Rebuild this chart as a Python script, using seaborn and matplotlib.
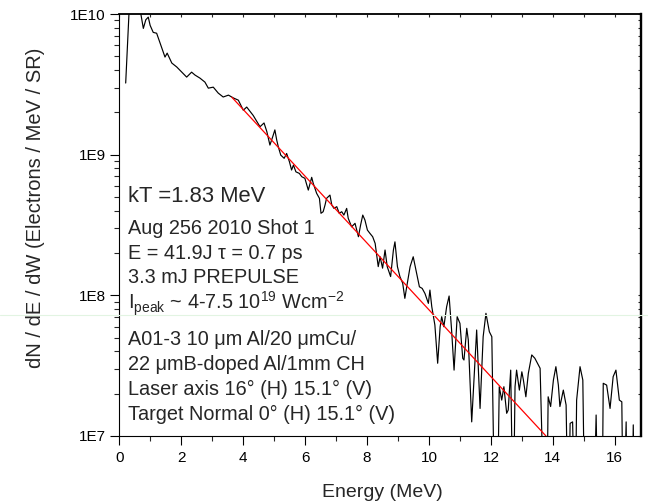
import numpy as np
import pandas as pd
import matplotlib
matplotlib.use("Agg")
import matplotlib.pyplot as plt
import seaborn as sns
from matplotlib.ticker import (MultipleLocator, LogLocator, FixedLocator,
                               FixedFormatter, NullFormatter)
from matplotlib.lines import Line2D

# ---------------- data ----------------
energy = [0.20, 0.31, 0.45, 0.60, 0.69, 0.77, 0.85, 0.93, 0.99, 1.09, 1.20, 1.36,
          1.47, 1.54, 1.69, 1.85, 1.95, 2.17, 2.33, 2.44, 2.60, 2.76, 2.87, 3.03,
          3.19, 3.35, 3.52, 3.68, 3.84, 4.00, 4.11, 4.32, 4.54, 4.67, 4.76, 4.86,
          4.95, 5.02, 5.08, 5.13, 5.21, 5.32, 5.40, 5.49, 5.56, 5.62, 5.70, 5.81,
          5.89, 5.99, 6.10, 6.21, 6.26, 6.37, 6.46, 6.51, 6.58, 6.64, 6.69, 6.80,
          6.86, 6.93, 7.02, 7.10, 7.18, 7.25, 7.34, 7.39, 7.50, 7.61, 7.72, 7.79,
          7.86, 7.93, 8.01, 8.09, 8.18, 8.26, 8.36, 8.42, 8.50, 8.58, 8.65, 8.76,
          8.85, 8.90, 8.98, 9.06, 9.15, 9.22, 9.28, 9.39, 9.49, 9.58, 9.69, 9.78,
          9.87, 9.98, 10.03, 10.09, 10.19, 10.28, 10.36, 10.41, 10.48, 10.57, 10.65,
          10.73, 10.81, 10.91, 11.00, 11.09, 11.13, 11.22, 11.27, 11.38, 11.54,
          11.65, 11.75, 11.84, 11.95, 12.03, 12.13, 12.20, 12.27, 12.35, 12.42,
          12.51, 12.56, 12.64, 12.72, 12.78, 12.83, 12.92, 13.00, 13.05, 13.13,
          13.21, 13.32, 13.42, 13.59, 13.73, 13.80, 13.85, 13.93, 14.02, 14.10,
          14.18, 14.23, 14.34, 14.43, 14.50, 14.56, 14.64, 14.72, 14.77, 14.88,
          14.97, 15.04, 15.31, 15.40, 15.47, 15.59, 15.63, 15.74, 15.85, 15.95,
          16.04, 16.15, 16.23, 16.28, 16.37, 16.41, 16.55, 16.60, 16.65, 16.82,
          16.92, 17.00]
counts = [3.23e9, 1.05e10, 1.6e10, 1.4e10, 1.0e10, 7.9e9, 9.1e9, 9.5e9, 8.3e9, 7.4e9,
          7.3e9, 5.8e9, 4.94e9, 5.27e9, 4.48e9, 4.2e9, 3.99e9, 3.56e9, 3.86e9, 3.68e9,
          3.5e9, 3.28e9, 2.97e9, 3.02e9, 2.74e9, 2.57e9, 2.65e9, 2.53e9, 2.44e9,
          2.07e9, 2.18e9, 1.90e9, 1.58e9, 1.68e9, 1.46e9, 1.17e9, 1.34e9, 1.50e9,
          1.27e9, 1.14e9, 9.93e8, 9.42e8, 1.02e9, 8.91e8, 7.78e8, 8.43e8, 7.55e8,
          7.36e8, 6.97e8, 6.79e8, 5.60e8, 6.90e8, 6.25e8, 5.31e8, 4.89e8, 3.83e8,
          3.93e8, 4.38e8, 4.89e8, 5.16e8, 4.38e8, 4.15e8, 4.27e8, 3.83e8, 3.93e8,
          3.72e8, 4.15e8, 3.53e8, 3.07e8, 3.25e8, 2.61e8, 3.16e8, 3.72e8, 3.43e8,
          2.91e8, 2.76e8, 2.61e8, 2.34e8, 1.60e8, 1.88e8, 1.56e8, 2.10e8, 1.60e8,
          1.36e8, 2.10e8, 2.40e8, 1.60e8, 1.36e8, 1.22e8, 9.52e7, 1.15e8, 1.60e8,
          1.88e8, 1.51e8, 1.15e8, 1.12e8, 1.03e8, 8.77e7, 1.09e8, 8.30e7, 6.15e7,
          3.29e7, 5.98e7, 7.05e7, 5.98e7, 8.30e7, 9.89e7, 5.67e7, 2.94e7, 7.05e7,
          6.32e7, 3.57e7, 3.47e7, 5.83e7, 4.81e7, 1.26e7, 5.67e7, 1.57e7, 5.08e7,
          7.45e7, 5.51e7, 5.08e7, 2e6, 2e6, 2.24e7, 1.80e7, 2.24e7, 1.45e7, 1.53e7,
          2.94e7, 2e6, 2.24e7, 2.94e7, 2.12e7, 2.86e7, 2.50e7, 1.90e7, 2.79e7,
          3.77e7, 3.57e7, 3.03e7, 2e6, 2e6, 1.90e7, 1.62e7, 2.50e7, 3.11e7, 2.30e7,
          1.62e7, 2.12e7, 1.66e7, 2e6, 1.23e7, 1.26e7, 2e6, 1.80e7, 3.11e7, 2.50e7,
          2e6, 2e6, 1.41e7, 2e6, 2e6, 2.37e7, 2.30e7, 1.57e7, 2.64e7, 2.94e7, 1.80e7,
          1.75e7, 2e6, 1.26e7, 2e6, 2e6, 1.20e7, 2e6, 2e6, 1.41e7, 1.3e7]

fit_energy = [3.63, 13.78]
fit_counts = [2.56e9, 1.0e7]

xtick_values = [0, 2, 4, 6, 8, 10, 12, 14, 16]
ytick_values = [1e7, 1e8, 1e9, 1e10]
ytick_labels = ["1E7", "1E8", "1E9", "1E10"]

x_label = "Energy (MeV)"
y_label = "dN / dE / dW (Electrons / MeV / SR)"
kt_text = "kT =1.83 MeV"
info_lines = [
    "Aug 256 2010 Shot 1",
    "E = 41.9J \u03c4 = 0.7 ps",
    "3.3 mJ PREPULSE",
    r"I$_{\mathrm{peak}}$ ~ 4-7.5 10$^{19}$ Wcm$^{-2}$",
    "A01-3 10 \u03bcm Al/20 \u03bcmCu/",
    "22 \u03bcmB-doped Al/1mm CH",
    "Laser axis 16\u00b0 (H) 15.1\u00b0 (V)",
    "Target Normal 0\u00b0 (H) 15.1\u00b0 (V)",
]

# ---------------- style ----------------
sns.set_theme(style="ticks")
plt.rcParams["font.family"] = ["Liberation Sans", "DejaVu Sans"]
plt.rcParams["mathtext.fontset"] = "custom"
plt.rcParams["mathtext.rm"] = "Liberation Sans"
plt.rcParams["mathtext.it"] = "Liberation Sans"
plt.rcParams["mathtext.default"] = "regular"

W, H = 648, 504
fig = plt.figure(figsize=(W / 100, H / 100), dpi=100)
L, R, T, B = 119.5, 641, 14, 436
ax = fig.add_axes([L / W, 1 - B / H, (R - L) / W, (B - T) / H])

spec = pd.DataFrame({"energy": energy, "counts": counts})
fit = pd.DataFrame({"energy": fit_energy, "counts": fit_counts})

sns.lineplot(data=spec, x="energy", y="counts", ax=ax, color="black",
             linewidth=0.85, estimator=None, sort=False)
sns.lineplot(data=fit, x="energy", y="counts", ax=ax, color="#ff0000",
             linewidth=0.9, estimator=None, sort=False)

ax.set_yscale("log")
ax.set_xlim(0, 16.85)
ax.set_ylim(1e7, 1e10)
ax.set_xlabel("")
ax.set_ylabel("")

ax.xaxis.set_major_locator(FixedLocator(xtick_values))
ax.xaxis.set_minor_locator(MultipleLocator(1))
ax.yaxis.set_major_locator(FixedLocator(ytick_values))
ax.yaxis.set_major_formatter(FixedFormatter(ytick_labels))
ax.yaxis.set_minor_locator(LogLocator(base=10, subs=np.arange(2, 10)))
ax.yaxis.set_minor_formatter(NullFormatter())

ax.tick_params(which="major", direction="out", length=6.5, width=0.8,
               labelsize=11, pad=3.5, colors="black")
ax.tick_params(which="minor", direction="out", length=3.5, width=0.8)
ax.tick_params(axis="x", which="major", pad=4)

for s in ["left", "bottom"]:
    ax.spines[s].set_linewidth(0.8)
ax.spines["top"].set_linewidth(1.1)
ax.spines["right"].set_linewidth(1.6)
for s in ax.spines.values():
    s.set_color("black")

# mirrored small inward ticks on top/right
sx = ax.secondary_xaxis("top")
sx.xaxis.set_major_locator(MultipleLocator(1))
sx.tick_params(direction="in", length=2, width=0.8, labeltop=False)
sx.spines["top"].set_linewidth(1.1)
sy = ax.secondary_yaxis("right")
sy.yaxis.set_major_locator(FixedLocator(ytick_values))
sy.yaxis.set_minor_locator(LogLocator(base=10, subs=np.arange(2, 10)))
sy.yaxis.set_minor_formatter(NullFormatter())
sy.tick_params(which="both", direction="in", length=2, width=0.8, labelright=False)
sy.spines["right"].set_linewidth(1.6)


def fx(x):
    return x / W


def fy(y):
    return 1 - y / H


# axis labels
fig.text(fx(382), fy(497), x_label, fontsize=14, ha="center", va="baseline")
fig.text(fx(36), fy(208), y_label, fontsize=14.5, ha="center", va="center",
         rotation=90)

# annotations
fig.text(fx(128), fy(201.5), kt_text, fontsize=15.8, ha="left", va="baseline")
baselines = [234, 259, 283, 309, 345, 370, 395, 420]
for txt, yb in zip(info_lines, baselines):
    fig.text(fx(128), fy(yb), txt, fontsize=14.3, ha="left", va="baseline")

# faint scan line artifact
fig.add_artist(Line2D([0, 1], [fy(315), fy(315)], transform=fig.transFigure,
                      color="#e2f4e2", linewidth=0.8, zorder=0.5))

fig.savefig("out.png", dpi=100)
